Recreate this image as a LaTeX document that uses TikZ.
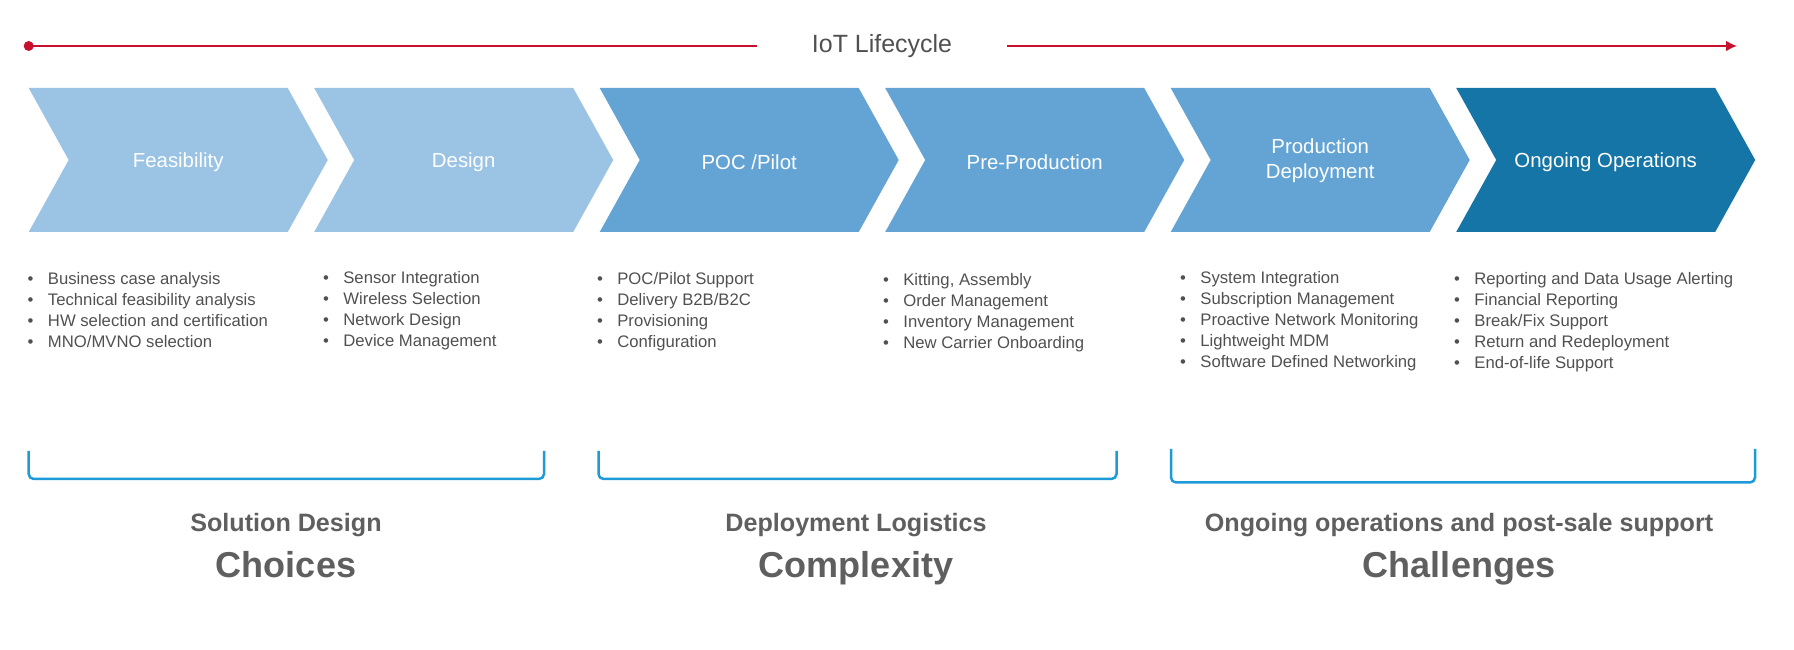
\documentclass[tikz,border=0pt]{standalone}
\usepackage{fontspec}
\setmainfont{Liberation Sans}
\usetikzlibrary{arrows.meta}
\definecolor{lifered}{RGB}{200,16,46}
\definecolor{pale}{RGB}{154,195,228}
\definecolor{midblue}{RGB}{100,164,213}
\definecolor{deep}{RGB}{21,117,166}
\definecolor{brace}{RGB}{30,155,215}
\definecolor{ink}{RGB}{80,80,80}
\definecolor{headgrey}{RGB}{95,95,95}
\tikzset{
  life/.style    = {draw=lifered, line width=0.5mm},
  lab/.style     = {font=\fontsize{11.6}{14.2}\selectfont, text=white, align=center},
  title/.style   = {font=\fontsize{14.2}{17}\selectfont, text=ink, inner xsep=11mm},
  li/.style      = {font=\fontsize{9.5}{11.9}\selectfont, text=ink, anchor=base west, inner sep=0pt,
                    execute at begin node={\llap{\textbullet\hspace{2.9mm}}}},
  bracket/.style = {draw=brace, line width=0.5mm, rounded corners=1mm},
  sub/.style     = {font=\bfseries\fontsize{14.3}{17}\selectfont, text=headgrey, anchor=base},
  big/.style     = {font=\bfseries\fontsize{20.5}{24}\selectfont, text=headgrey, anchor=base},
}
% one arrow-shaped stage: left edge at #1, fill colour #2
\newcommand{\chev}[2]{\fill[#2] (#1,-17.6mm) -- ++(51.8mm,0) -- ++(8mm,-14.4mm) -- ++(-8mm,-14.4mm)
  -- ++(-51.8mm,0) -- ++(8mm,14.4mm) -- cycle;}

\begin{document}
\begin{tikzpicture}
\useasboundingbox (0,0) rectangle (358.8mm,-130mm);

% ======================================================= lifecycle arrow
\node[title] (life) at (176.4mm,-9.2mm) {IoT Lifecycle};
\coordinate (start) at (5.74mm,-9.2mm);
\coordinate (finish) at (347.4mm,-9.2mm);
\fill[lifered] (start) circle (1mm);
\draw[life] (start) -- (life.west);
\draw[life, -{Latex[length=2.2mm,width=2.2mm]}] (life.east) -- (finish);

% ======================================================= stages
% pitch 57.1mm, each stage 59.8mm from notch edge to tip
\foreach \i/\c in {0/pale,1/pale,2/midblue,3/midblue,4/midblue,5/deep}{\chev{5.74mm+57.1mm*\i}{\c}}

\node[lab] (feas) at (35.64mm,-32.4mm) {Feasibility};
\node[lab] (des)  at (92.74mm,-32.4mm) {Design};
\node[lab] (poc)  at (149.84mm,-32.4mm) {POC /Pilot};
\node[lab] (pre)  at (206.94mm,-32.4mm) {Pre-Production};
\node[lab] (prod) at (264.04mm,-32.2mm) {Production\\Deployment};
\node[lab] (ops)  at (321.14mm,-32.4mm) {Ongoing Operations};

% ======================================================= task lists
\foreach \t [count=\k] in {Business case analysis, Technical feasibility analysis,
    HW selection and certification, MNO/MVNO selection}
  \node[li] (feas-\k) at (9.52mm,-52.8mm-4.2mm*\k) {\t};
\foreach \t [count=\k] in {Sensor Integration, Wireless Selection, Network Design, Device Management}
  \node[li] (des-\k) at (68.6mm,-52.6mm-4.2mm*\k) {\t};
\foreach \t [count=\k] in {POC/Pilot Support, Delivery B2B/B2C, Provisioning, Configuration}
  \node[li] (poc-\k) at (123.4mm,-52.8mm-4.2mm*\k) {\t};
\foreach \t [count=\k] in {{Kitting, Assembly}, Order Management, Inventory Management,
    New Carrier Onboarding}
  \node[li] (pre-\k) at (180.6mm,-53.0mm-4.2mm*\k) {\t};
\foreach \t [count=\k] in {System Integration, Subscription Management, Proactive Network Monitoring,
    Lightweight MDM, Software Defined Networking}
  \node[li] (prod-\k) at (240mm,-52.6mm-4.2mm*\k) {\t};
\foreach \t [count=\k] in {Reporting and Data Usage Alerting, Financial Reporting, Break/Fix Support,
    Return and Redeployment, End-of-life Support}
  \node[li] (ops-\k) at (294.8mm,-52.7mm-4.2mm*\k) {\t};

% ======================================================= groups
\draw[bracket] (5.74mm,-90.2mm) |- (108.8mm,-95.8mm) -- (108.8mm,-90.2mm);
\draw[bracket] (119.7mm,-90.2mm) |- (223.3mm,-95.8mm) -- (223.3mm,-90.2mm);
\draw[bracket] (234.2mm,-89.8mm) |- (351mm,-96.5mm) -- (351mm,-89.8mm);

\node[sub] (sd)  at (57.2mm,-106.4mm) {Solution Design};
\node[big] (cho) at (57.2mm,-115.4mm) {Choices};
\node[sub] (dl)  at (171.2mm,-106.4mm) {Deployment Logistics};
\node[big] (cpx) at (171.2mm,-115.4mm) {Complexity};
\node[sub] (oo)  at (291.8mm,-106.4mm) {Ongoing operations and post-sale support};
\node[big] (chl) at (291.8mm,-115.4mm) {Challenges};

\end{tikzpicture}
\end{document}
